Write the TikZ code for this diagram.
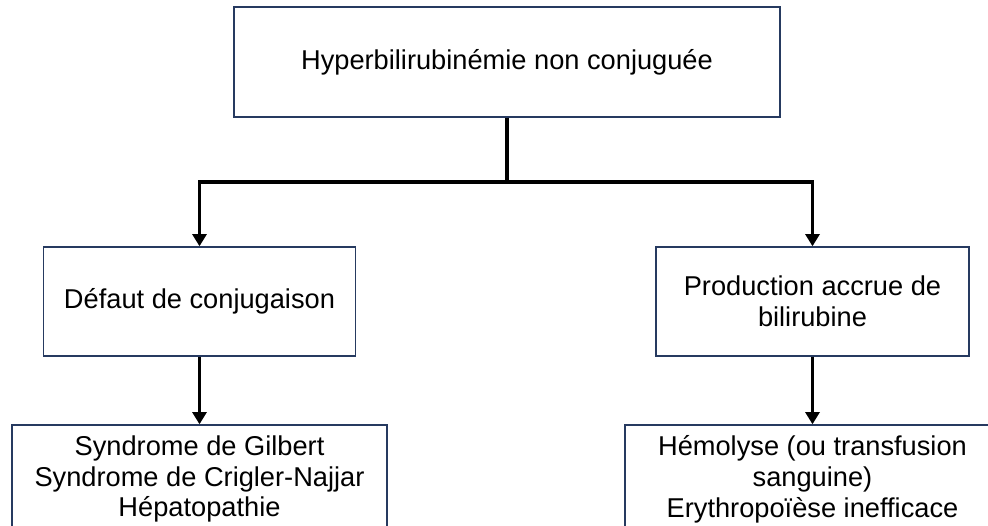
\documentclass[tikz,border=0pt]{standalone}
\usepackage{fontspec}
\setmainfont{Liberation Sans}
\usetikzlibrary{arrows.meta}
\definecolor{boxline}{RGB}{38,58,96}

\begin{document}
\begin{tikzpicture}[x=0.02cm,y=-0.02cm,
    box/.style={draw=boxline,line width=0.8pt,inner sep=0pt,align=center,
      font=\fontsize{15.5}{17.6}\selectfont},
    link/.style={line width=1.8pt,-{Triangle[width=8pt,length=7pt]}}]

            \useasboundingbox (0,0) rectangle (988,526);

            \node[box,minimum width=10.92cm,minimum height=2.2cm] (hyper) at (507,62)
              {Hyperbilirubinémie non conjuguée};

            \node[box,minimum width=6.24cm,minimum height=2.18cm] (defaut) at (199.5,301.5)
              {Défaut de conjugaison};
            \node[box,minimum width=6.26cm,minimum height=2.18cm] (prod) at (812.5,301.5)
              {Production accrue de\\bilirubine};

            \node[box,minimum width=7.5cm,minimum height=2.16cm] (gilbert) at (199.5,479)
              {Syndrome de Gilbert\\Syndrome de Crigler-Najjar\\Hépatopathie};
            \node[box,minimum width=7.5cm,minimum height=2.16cm] (hemo) at (812.5,479)
              {Hémolyse (ou transfusion\\sanguine)\\Erythropoïèse inefficace};

            \coordinate (split) at (507,182);

            \draw[line width=1.8pt] (hyper.south) -- (split);
            \draw[link] (split) -| (defaut.north);
            \draw[link] (split) -| (prod.north);

            \draw[link] (defaut.south) -- (gilbert.north);
            \draw[link] (prod.south) -- (hemo.north);

        \end{tikzpicture}
\end{document}
